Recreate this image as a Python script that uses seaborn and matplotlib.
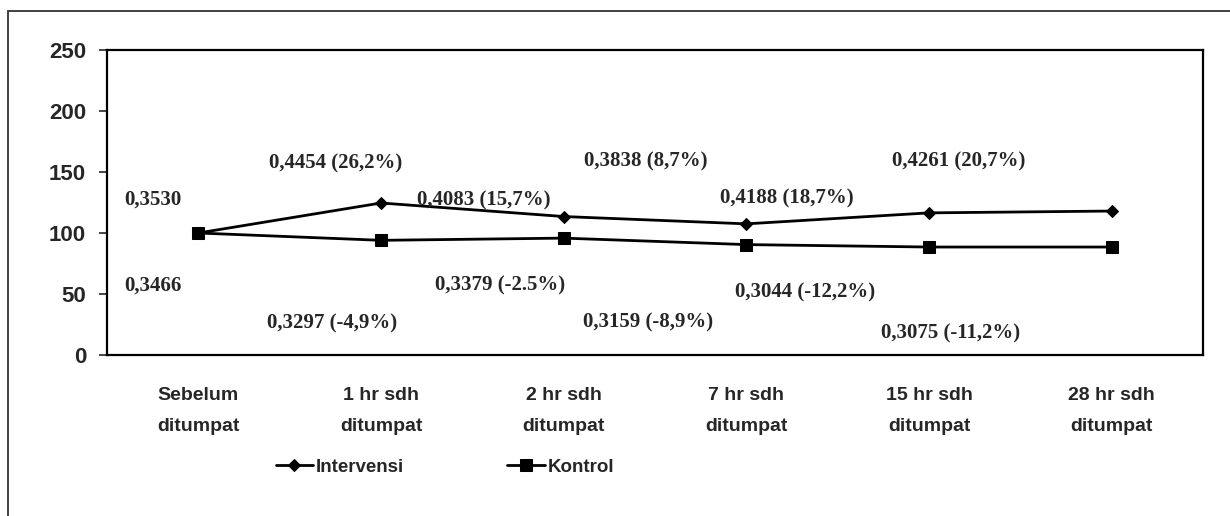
import matplotlib
matplotlib.use("Agg")
import matplotlib.pyplot as plt
from matplotlib.patches import Rectangle
import seaborn as sns
import pandas as pd

# data (index, Sebelum ditumpat = 100)
waktu = ["Sebelum\nditumpat", "1 hr sdh\nditumpat", "2 hr sdh\nditumpat",
         "7 hr sdh\nditumpat", "15 hr sdh\nditumpat", "28 hr sdh\nditumpat"]
intervensi = [100, 124.6, 113.5, 107.5, 116.5, 118.0]
kontrol = [100, 94.0, 95.8, 90.5, 88.5, 88.5]

label_intervensi = ["0,3530", "0,4454 (26,2%)", "0,4083 (15,7%)",
                    "0,3838 (8,7%)", "0,4188 (18,7%)", "0,4261 (20,7%)"]
label_kontrol = ["0,3466", "0,3297 (-4,9%)", "0,3379 (-2.5%)",
                 "0,3159 (-8,9%)", "0,3044 (-12,2%)", "0,3075 (-11,2%)"]

# where the value labels sit (data coords)
pos_intervensi = [(-0.25, 127), (0.75, 157), (1.56, 127), (2.45, 159), (3.22, 128), (4.16, 159)]
pos_kontrol = [(-0.25, 57), (0.73, 26), (1.65, 57), (2.46, 27), (3.32, 51), (4.12, 18)]

df = pd.DataFrame({
    "waktu": waktu * 2,
    "nilai": intervensi + kontrol,
    "kelompok": ["Intervensi"] * len(waktu) + ["Kontrol"] * len(waktu),
})

sns.set_style("white")
plt.rcParams["font.family"] = ["Liberation Sans", "DejaVu Sans"]

fig = plt.figure(figsize=(12.3, 5.16), dpi=100)
ax = fig.add_axes([107 / 1230, 1 - 355 / 516, (1203 - 107) / 1230, (355 - 50) / 516])

sns.lineplot(data=df, x="waktu", y="nilai", hue="kelompok", style="kelompok",
             markers={"Intervensi": "D", "Kontrol": "s"}, dashes=False,
             palette={"Intervensi": "black", "Kontrol": "black"},
             linewidth=2.0, markeredgecolor="black",
             sort=False, ax=ax)

# diamond a bit smaller than the square
for line in ax.lines:
    if line.get_marker() == "D":
        line.set_markersize(6.5)
    elif line.get_marker() == "s":
        line.set_markersize(8.5)

ax.set_ylim(0, 250)
ax.set_yticks(range(0, 251, 50))
ax.set_xlim(-0.5, len(waktu) - 0.5)
ax.set_xlabel("")
ax.set_ylabel("")

for sp in ax.spines.values():
    sp.set_visible(True)
    sp.set_color("black")
    sp.set_linewidth(1.6)

ax.tick_params(axis="y", length=6, width=1.2, pad=9, labelsize=16, direction="out", left=True)
ax.tick_params(axis="x", length=0, pad=23, labelsize=14)
for lab in ax.get_yticklabels():
    lab.set_fontweight("bold")
for lab in ax.get_xticklabels():
    lab.set_fontweight("bold")
    lab.set_linespacing(2.1)

serif = ["Liberation Serif", "DejaVu Serif"]
for txt, (x, y) in zip(label_intervensi, pos_intervensi):
    ax.text(x, y, txt, ha="center", va="center", fontsize=15,
            fontweight="bold", family=serif)
for txt, (x, y) in zip(label_kontrol, pos_kontrol):
    ax.text(x, y, txt, ha="center", va="center", fontsize=15,
            fontweight="bold", family=serif)

handles, labels = ax.get_legend_handles_labels()
for h in handles:
    if h.get_marker() == "D":
        h.set_markersize(6)
    else:
        h.set_markersize(8)
ax.legend(handles, labels, loc="center", bbox_to_anchor=(445 / 1230, 1 - 467 / 516),
          bbox_transform=fig.transFigure, ncol=2, frameon=False,
          handlelength=2.0, columnspacing=5.5, handletextpad=0.15,
          prop={"size": 13.5, "weight": "bold"})

# outer chart frame
fig.patches.append(Rectangle((8 / 1230, -0.05), 1.2, 1 - 11 / 516 + 0.05,
                             transform=fig.transFigure, fill=False,
                             edgecolor="#333333", linewidth=1.3))

fig.savefig("out.png", dpi=100)
